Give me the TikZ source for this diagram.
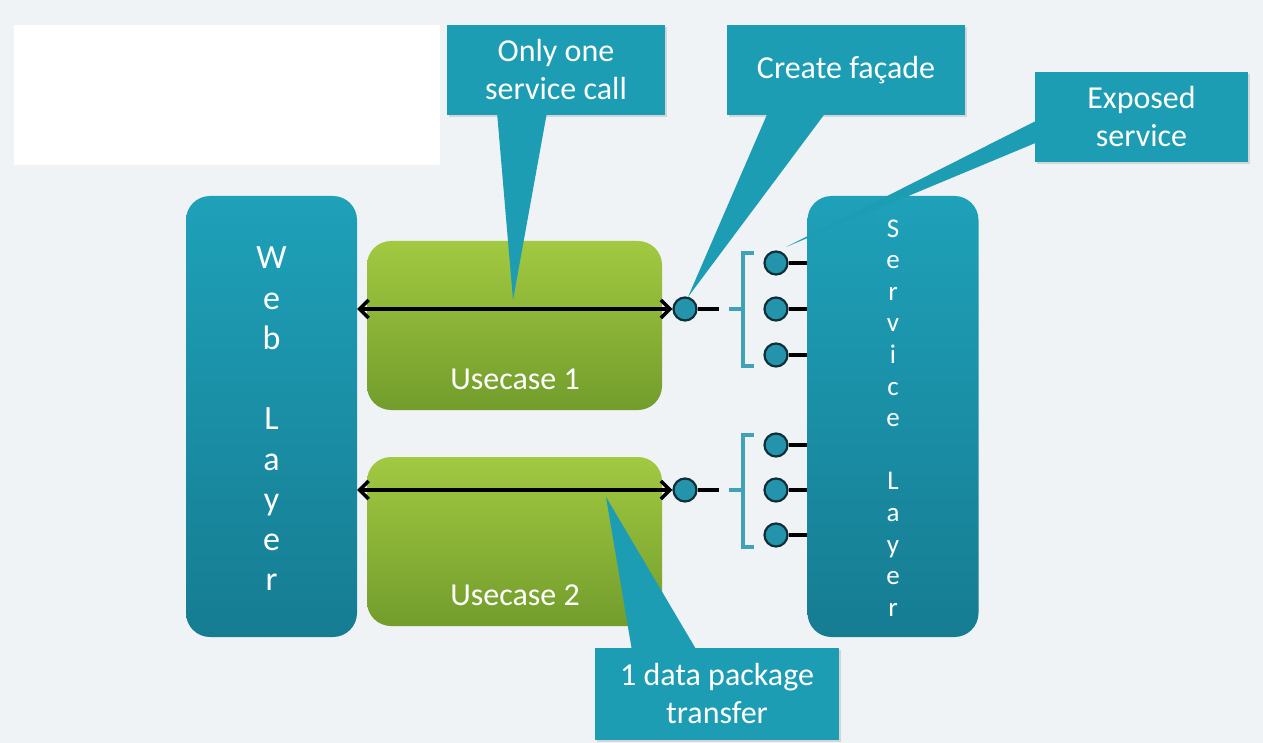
\documentclass[tikz,border=0pt]{standalone}
\usepackage{fontspec}
\setmainfont{Carlito}
\usetikzlibrary{arrows.meta,shadows,calc}
\definecolor{bgc}{HTML}{F0F3F5}
\definecolor{tealtop}{HTML}{1EA1B9}
\definecolor{tealbot}{HTML}{167C92}
\definecolor{calltop}{HTML}{1D9DB3}
\definecolor{greentop}{HTML}{A2C941}
\definecolor{greenbot}{HTML}{729D2C}
\definecolor{dotfill}{HTML}{2394AC}
\definecolor{dotline}{HTML}{0F2F38}
\definecolor{brack}{HTML}{3FA2B6}
\tikzset{
  layerbox/.style={rounded corners=24pt, top color=tealtop, bottom color=tealbot, draw=none, minimum width=171pt, minimum height=441pt},
  usebox/.style={rounded corners=24pt, top color=greentop, bottom color=greenbot, draw=none, minimum width=295pt, minimum height=169pt},
  calloutbox/.style={fill=calltop, draw=none, text=white, align=center, font=\fontsize{32}{38}\selectfont,
     drop shadow={shadow xshift=2pt, shadow yshift=-2pt, opacity=0.25}},
  pointer/.style={fill=calltop, draw=none},
  dot/.style={circle, fill=dotfill, draw=dotline, line width=2.2pt, minimum size=23pt, inner sep=0pt},
  stub/.style={line width=3.5pt, draw=black},
  brk/.style={draw=brack, line width=3.5pt},
  dblarrow/.style={line width=3.5pt, {Straight Barb[length=9pt,width=18pt]}-{Straight Barb[length=9pt,width=18pt]}},
  lettertext/.style={text=white, align=center},
  usetext/.style={text=white, font=\fontsize{32}{38}\selectfont}
}
\begin{document}
\begin{tikzpicture}[x=1pt,y=-1pt]
\useasboundingbox (0,0) rectangle (1263,743);
\fill[bgc] (0,0) rectangle (1263,743);
\fill[white] (14,25) rectangle (440,165);

% layers
\node[layerbox] (web) at (271.5,416.5) {};
\node[lettertext, font=\fontsize{34}{40.25}\selectfont] (webtxt) at (271.5,419) {W\\e\\b\\[40.25pt]L\\a\\y\\e\\r};
\node[layerbox] (svc) at (893,416.5) {};
\node[lettertext, font=\fontsize{27}{31.6}\selectfont] (svctxt) at (893,418) {S\\e\\r\\v\\i\\c\\e\\[31.6pt]L\\a\\y\\e\\r};

% use cases
\node[usebox] (uc1) at (514.5,325.5) {};
\node[usetext] (uc1t) at (515,379) {Usecase 1};
\node[usebox] (uc2) at (514.5,541.5) {};
\node[usetext] (uc2t) at (515,595) {Usecase 2};

% facade dots
\node[dot] (f1) at (685,309) {};
\node[dot] (f2) at (685,490) {};
\coordinate (f1e) at (719,309);
\coordinate (f2e) at (719,490);
\draw[stub] (f1.east) -- (f1e);
\draw[stub] (f2.east) -- (f2e);

% arrows
\draw[dblarrow] (web.east |- f1) -- (f1.west);
\draw[dblarrow] (web.east |- f2) -- (f2.west);

% exposed service dots
\foreach \n/\yy in {s1/263, s2/309, s3/355, s4/445, s5/490, s6/535}{
  \node[dot] (\n) at (776,\yy) {};
  \draw[stub] (\n.east) -- (svc.west |- \n);
}

% brackets
\draw[brk] (754,253) -- (743,253) -- (743,366) -- (754,366);
\draw[brk] (729,309) -- (743,309);
\draw[brk] (754,435) -- (743,435) -- (743,547) -- (754,547);
\draw[brk] (729,490) -- (743,490);

% callouts
\node[calloutbox, minimum width=218pt, minimum height=90pt] (c1) at (556,70) {Only one\\service call};
\node[calloutbox, minimum width=238pt, minimum height=90pt] (c2) at (846,70) {Create façade};
\node[calloutbox, minimum width=213pt, minimum height=90pt] (c3) at (1141.5,117) {Exposed\\service};
\node[calloutbox, minimum width=244pt, minimum height=92pt] (c4) at (717,694) {1 data package\\transfer};

\coordinate (t1) at (513,300);
\coordinate (t2) at (688,297);
\coordinate (t3) at (786,247);
\coordinate (t4) at (606,497);

\fill[pointer] ($(c1.south)+(-59,-3)$) -- (t1) -- ($(c1.south)+(-9,-3)$) -- cycle;
\fill[pointer] ($(c2.south)+(-78,-3)$) -- (t2) -- ($(c2.south)+(-20,-3)$) -- cycle;
\fill[pointer] ($(c3.west)+(3,3)$) -- (t3) -- ($(c3.west)+(3,25)$) -- cycle;
\fill[pointer] ($(c4.north)+(-85,3)$) -- (t4) -- ($(c4.north)+(-20,3)$) -- cycle;
\end{tikzpicture}
\end{document}
